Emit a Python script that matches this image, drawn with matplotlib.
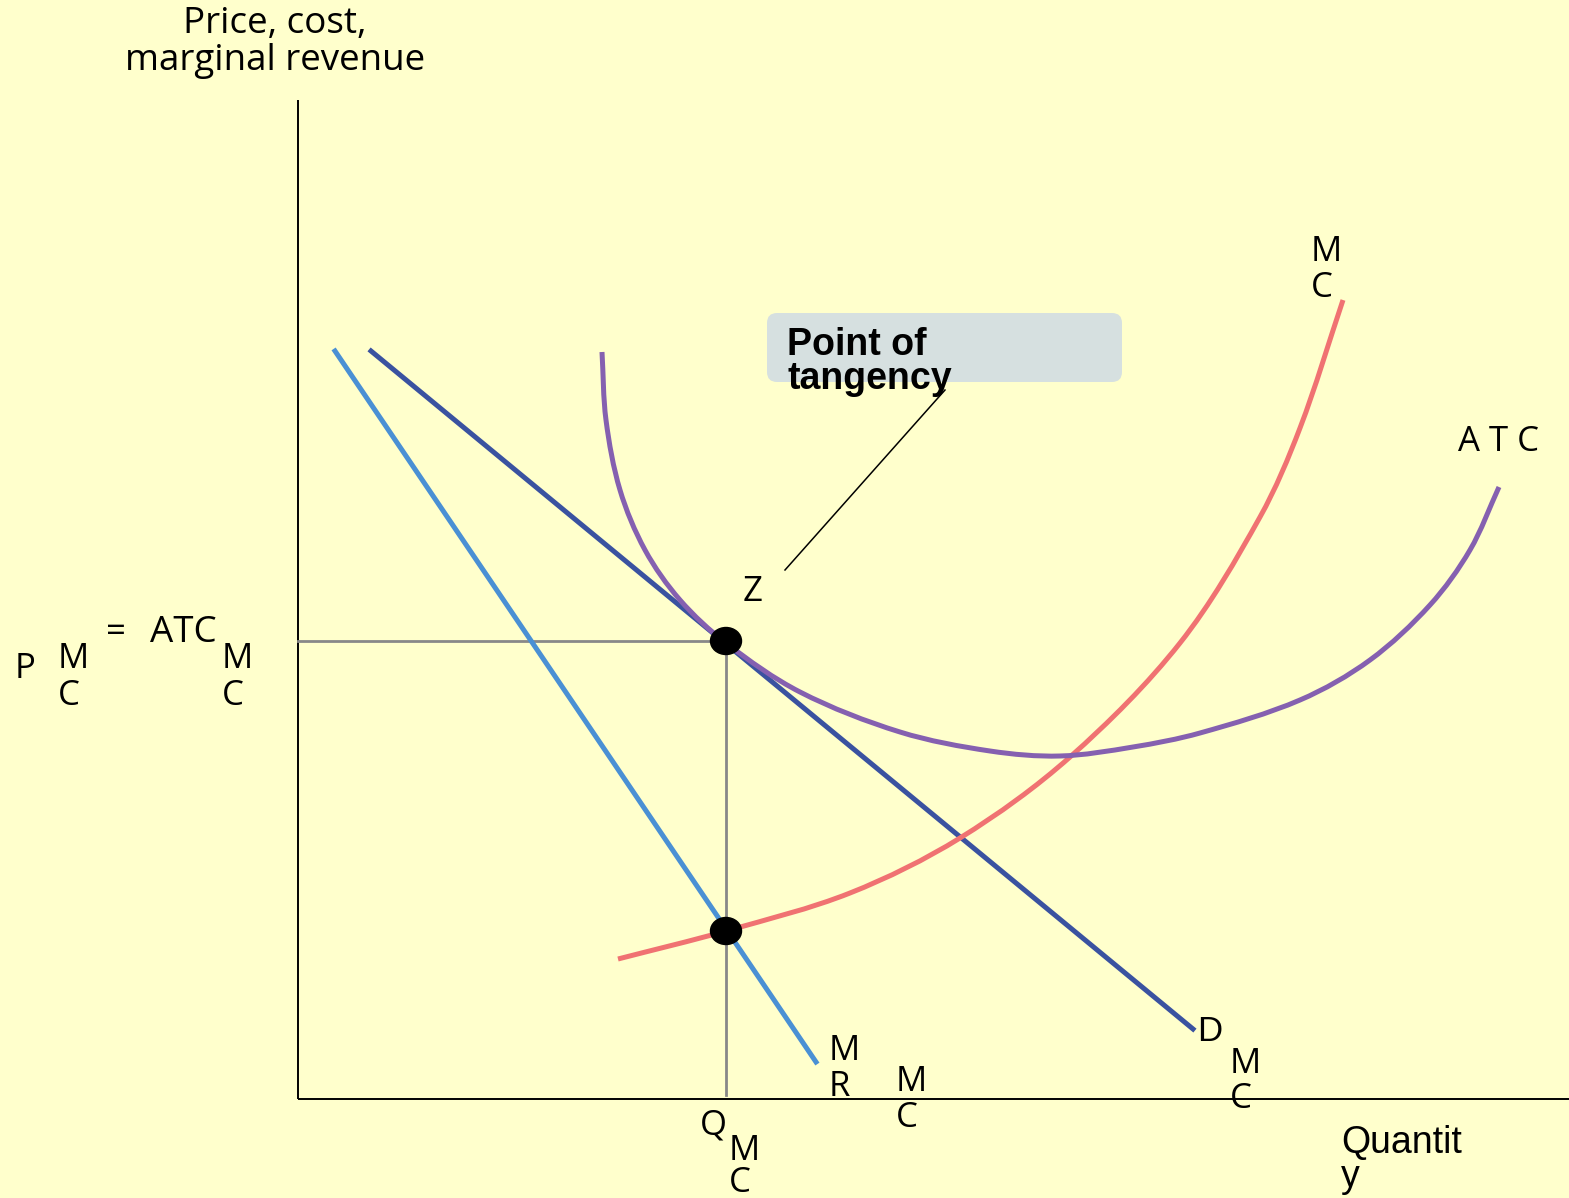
import math

import matplotlib
import matplotlib.pyplot as plt
from matplotlib.patches import Ellipse, FancyBboxPatch, PathPatch
from matplotlib.path import Path

matplotlib.use("Agg")

W, H = 1569, 1198
BG = "#ffffcc"

# curves, in axis units (origin at the axes corner)
demand_x = [7.3, 89.5]
demand_y = [74.8, 7.0]

mr_x = [3.7, 51.8]
mr_y = [74.8, 3.7]

mc_x = [32.0, 42.8, 55.2, 66.2, 77.2, 88.2, 96.2, 100.2, 104.5]
mc_y = [14.0, 16.8, 20.6, 26.1, 34.2, 45.6, 58.2, 67.1, 79.9]

atc_x = [30.4, 30.8, 32.2, 34.7, 38.2, 42.8, 50.2, 60.2, 69.2, 76.2, 83.5, 90.2,
         100.2, 107.2, 113.2, 117.2, 120.1]
atc_y = [74.7, 67.9, 60.9, 54.9, 49.9, 45.6, 40.7, 36.7, 34.8, 34.3, 35.2, 36.6,
         39.9, 43.9, 49.4, 54.9, 61.2]

q_mc = 42.8
p_mc = 45.8
mc_at_q = 16.8


def smooth_path(xs, ys):
    # chord-length Catmull-Rom through the read points, as cubic Bezier segments
    pts = list(zip(xs, ys))
    n = len(pts)
    t = [0.0]
    for i in range(1, n):
        t.append(t[-1] + math.dist(pts[i - 1], pts[i]))
    tang = []
    for i in range(n):
        a = max(i - 1, 0)
        b = min(i + 1, n - 1)
        dt = t[b] - t[a]
        tang.append(((pts[b][0] - pts[a][0]) / dt, (pts[b][1] - pts[a][1]) / dt))
    verts = [pts[0]]
    codes = [Path.MOVETO]
    for i in range(n - 1):
        h = (t[i + 1] - t[i]) / 3
        c1 = (pts[i][0] + tang[i][0] * h, pts[i][1] + tang[i][1] * h)
        c2 = (pts[i + 1][0] - tang[i + 1][0] * h, pts[i + 1][1] - tang[i + 1][1] * h)
        verts += [c1, c2, pts[i + 1]]
        codes += [Path.CURVE4] * 3
    return Path(verts, codes)


fig = plt.figure(figsize=(W / 100, H / 100), dpi=100, facecolor=BG)
ax = fig.add_axes([0, 0, 1, 1])
ax.set_facecolor(BG)
ax.set_xlim(-29.8, 127.1)
ax.set_ylim(-9.9, 109.9)
ax.axis("off")

# axes
ax.plot([0, 0], [0, 99.9], color="black", lw=1.4, solid_capstyle="butt")
ax.plot([0, 127.1], [0, 0], color="black", lw=1.4, solid_capstyle="butt")

# guide lines
ax.plot([0, q_mc], [p_mc, p_mc], color="#888888", lw=2, zorder=2)
ax.plot([q_mc, q_mc], [0.4, p_mc], color="#888888", lw=2, zorder=2)

ax.plot(mr_x, mr_y, color="#4a90d4", lw=3.6, zorder=3)
ax.plot(demand_x, demand_y, color="#3a52a0", lw=3.6, zorder=3)
ax.add_patch(PathPatch(smooth_path(mc_x, mc_y), fc="none", ec="#f07272",
                       lw=3.6, zorder=3))
ax.add_patch(PathPatch(smooth_path(atc_x, atc_y), fc="none", ec="#8560b0",
                       lw=3.6, zorder=4))

ax.add_patch(Ellipse((q_mc, p_mc), 3.1, 2.7, color="black", zorder=5))
ax.add_patch(Ellipse((q_mc, mc_at_q), 3.1, 2.7, color="black", zorder=5))

# callout box and pointer
ax.add_patch(FancyBboxPatch((46.9, 71.7), 35.5, 6.9,
                            boxstyle="round,pad=0,rounding_size=1.0",
                            fc="#d6e0e0", ec="none", zorder=1))
ax.plot([48.7, 64.7], [52.9, 70.9], color="black", lw=1.1, zorder=2)

OS = "Open Sans"
LS = "Liberation Sans"


def label(x, y, s, family=OS, size=25, ha="left", **kw):
    fig.text(x / W, 1 - y / H, s, family=family, fontsize=size, ha=ha,
             va="baseline", **kw)


label(275, 33, "Price, cost,", size=26.5, ha="center")
label(275, 70, "marginal revenue", size=26.5, ha="center")

label(15, 678, "P")
label(58, 668, "M")
label(58, 705, "C")
label(106, 642, "=")
label(150, 642, "ATC", size=26.5)
label(222, 668, "M")
label(222, 705, "C")

label(743, 601, "Z")

label(1311, 261, "M")
label(1311, 297, "C")
label(1458, 451, "A T C")

label(1197, 1041, "D", family=LS)
label(1230, 1073, "M")
label(1230, 1108, "C")

label(829, 1060, "M")
label(829, 1096, "R")
label(896, 1091, "M")
label(896, 1127, "C")

label(700, 1135, "Q")
label(729, 1160, "M")
label(729, 1192, "C")

label(1341, 1153, "Quantit", family=LS, size=27)
label(1341, 1187, "y", family=LS, size=27)

label(787, 355, "Point of", family=LS, size=27, fontweight="bold")
label(787, 389, "tangency", family=LS, size=27, fontweight="bold")

fig.savefig("out.png", dpi=100, facecolor=BG)
